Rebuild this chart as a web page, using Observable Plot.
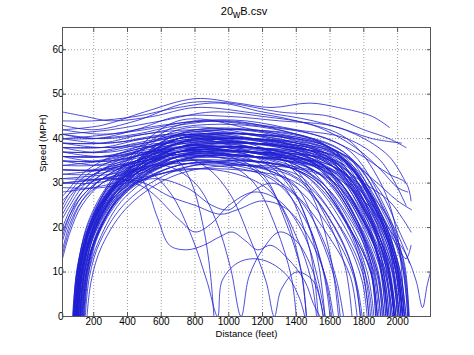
<!DOCTYPE html>
<html><head><meta charset="utf-8">
<script src="https://cdn.jsdelivr.net/npm/d3@7"></script>
<script src="https://cdn.jsdelivr.net/npm/@observablehq/plot@0.6"></script>
<style>
body{margin:0;background:#fff;}
#title{width:474px;height:20px;box-sizing:border-box;padding-top:5px;padding-left:14px;text-align:center;font:11px "Liberation Sans",Arial,sans-serif;line-height:12px;color:#000;}
#title sub{font-size:10px;vertical-align:-3px;line-height:0;}
</style></head><body>
<div id="title">20<sub>w</sub>B.csv</div>
<div id="chart"></div>
<script>
const xTicks = [200,400,600,800,1000,1200,1400,1600,1800,2000];
const yTicks = [0,10,20,30,40,50,60];
const xLabel = "Distance (feet)";
const yLabel = "Speed (MPH)";

// Runs that start from a stop near the left
const accelRuns = [
[[75,0],[100,10],[165,19],[325,29],[700,37],[1150,38],[1610,34],[1840,22],[1950,11],[1990,0]],
[[80,0],[105,11],[170,21],[330,31],[700,40],[1150,40],[1660,36],[1890,24],[2000,12],[2040,0]],
[[85,0],[110,9],[175,18],[335,28],[700,35],[1150,36],[1520,31],[1750,20],[1860,10],[1900,0]],
[[90,0],[115,10],[180,20],[340,30],[700,38],[1150,37],[1580,33],[1810,21],[1920,11],[1960,0]],
[[95,0],[120,11],[185,21],[345,31],[700,41],[1150,42],[1680,37],[1910,25],[2020,13],[2060,0]],
[[100,0],[125,9],[190,18],[350,28],[700,36],[1150,35],[1450,30],[1680,19],[1790,10],[1830,0]],
[[105,0],[130,10],[195,19],[355,29],[700,37],[1150,39],[1630,35],[1860,23],[1970,12],[2010,0]],
[[110,0],[135,11],[200,20],[360,30],[700,39],[1150,41],[1650,36],[1880,23],[1990,12],[2030,0]],
[[115,0],[140,9],[205,17],[365,27],[700,34],[1150,34],[1400,29],[1630,18],[1740,9],[1780,0]],
[[120,0],[145,10],[210,19],[370,29],[700,38],[1150,37],[1600,33],[1830,21],[1940,11],[1980,0]],
[[125,0],[150,10],[215,20],[375,30],[700,40],[1150,39],[1620,35],[1850,22],[1960,12],[2000,0]],
[[130,0],[155,9],[220,18],[380,28],[700,36],[1150,38],[1570,33],[1800,21],[1910,11],[1950,0]],
[[135,0],[160,10],[225,19],[385,28],[700,35],[1150,36],[1540,32],[1770,20],[1880,10],[1920,0]],
[[140,0],[165,9],[230,17],[390,27],[700,34],[1150,33],[1380,28],[1610,17],[1720,9],[1760,0]],
[[150,0],[175,9],[240,17],[400,26],[700,33],[1150,35],[1500,31],[1730,19],[1840,10],[1880,0]],
[[160,0],[185,8],[250,16],[410,25],[700,32],[1150,34],[1590,31],[1820,20],[1930,10],[1970,0]],
[[85,0],[110,12],[175,22],[335,32],[700,43],[1150,43],[1690,38],[1920,25],[2030,13],[2070,0]],
[[100,0],[125,12],[190,22],[350,33],[700,44],[1150,42],[1640,37],[1870,24],[1980,12],[2020,0]],
[[90,0],[115,11],[180,21],[340,31],[700,39],[1150,38],[1560,34],[1790,22],[1900,11],[1940,0]],
[[110,0],[135,10],[200,19],[360,29],[700,37],[1150,36],[1480,31],[1710,20],[1820,10],[1860,0]],
[[80,0],[105,10],[170,19],[330,29],[700,36],[1150,37],[1660,34],[1890,22],[2000,11],[2040,0]],
[[120,0],[145,11],[210,21],[370,31],[700,39],[1150,40],[1600,35],[1830,22],[1940,11],[1980,0]],
[[95,0],[120,10],[185,20],[345,30],[700,38],[1150,38],[1350,35],[1580,22],[1690,11],[1730,0]],
[[130,0],[155,10],[220,19],[380,29],[700,37],[1150,38],[1630,34],[1860,22],[1970,11],[2010,0]],
[[105,0],[130,11],[195,21],[355,31],[700,40],[1150,37],[1540,33],[1770,21],[1880,11],[1920,0]],
[[140,0],[165,10],[230,19],[390,29],[700,36],[1150,36],[1660,33],[1890,21],[2000,11],[2040,0]],
[[78,0],[102,11],[167,20],[327,30],[700,39],[1150,39],[1640,35],[1870,23],[1980,12],[2020,0]],
[[88,0],[112,10],[177,19],[337,29],[700,36],[1150,36],[1600,32],[1830,20],[1940,10],[1980,0]],
[[98,0],[122,12],[187,22],[347,32],[700,42],[1150,41],[1650,37],[1880,24],[1990,12],[2030,0]],
[[108,0],[132,10],[197,19],[357,29],[700,38],[1150,40],[1700,36],[1930,23],[2040,12],[2065,0]],
[[118,0],[142,11],[207,21],[367,31],[700,40],[1150,38],[1520,34],[1750,22],[1860,11],[1900,0]],
[[93,0],[117,10],[182,20],[342,30],[700,37],[1150,37],[1690,34],[1920,22],[2030,11],[2060,0]],
[[103,0],[127,9],[192,18],[352,28],[700,35],[1150,37],[1620,33],[1850,21],[1960,11],[2000,0]],
[[113,0],[137,11],[202,21],[362,31],[700,41],[1150,40],[1670,35],[1900,23],[2010,11],[2050,0]],
[[83,0],[107,10],[172,20],[332,30],[700,38],[1150,39],[1560,34],[1790,22],[1900,11],[1940,0]],
[[125,0],[150,9],[215,18],[375,28],[700,35],[1150,35],[1500,31],[1730,19],[1840,10],[1870,0]],
[[145,0],[170,10],[235,19],[395,28],[700,36],[1150,37],[1610,33],[1840,21],[1950,10],[1990,0]]
];

// Runs already moving at the left edge
const flyingRuns = [
[[15,46],[150,45],[300,44],[550,45],[800,47],[1100,46],[1400,44],[1700,40],[1900,30],[2000,18],[2040,0]],
[[15,43],[200,42],[450,44],[750,48],[1000,48],[1300,46],[1600,45],[1800,42],[1950,40],[2050,38]],
[[15,42],[250,43],[500,46],[800,49],[1050,48],[1250,47],[1480,48],[1650,47],[1850,45],[1952,42.5]],
[[15,41],[200,40],[450,42],[700,45],[1000,45],[1300,44],[1600,43],[1850,40],[2023,39]],
[[15,40],[200,40],[450,41],[700,43],[1000,44],[1300,42],[1600,38],[1800,30],[1950,16],[2000,0]],
[[15,39],[250,39],[500,41],[800,42],[1100,41],[1400,39],[1650,34],[1850,22],[1950,10],[1990,0]],
[[15,38],[200,37],[450,39],[750,41],[1050,42],[1350,40],[1600,36],[1800,25],[1920,13],[1960,0]],
[[15,37],[250,36],[500,38],[800,40],[1100,39],[1400,37],[1620,32],[1820,20],[1920,9],[1950,0]],
[[15,36],[200,35],[450,37],[750,39],[1050,40],[1350,39],[1650,35],[1880,22],[1990,11],[2030,0]],
[[15,35],[250,34],[500,36],[800,38],[1100,38],[1400,35],[1600,30],[1780,19],[1880,9],[1910,0]],
[[15,34],[200,34],[450,36],[750,39],[1050,39],[1350,38],[1680,35],[1900,22],[2010,11],[2050,0]],
[[15,33],[250,33],[500,35],[800,37],[1100,37],[1400,34],[1580,29],[1760,18],[1850,9],[1880,0]],
[[15,32],[200,32],[450,34],[750,36],[1050,36],[1350,35],[1640,32],[1860,20],[1970,10],[2010,0]],
[[15,31],[250,31],[500,33],[800,36],[1100,35],[1400,33],[1550,28],[1730,17],[1820,8],[1850,0]],
[[15,30],[200,30],[450,32],[750,35],[1050,35],[1350,34],[1600,31],[1820,19],[1930,9],[1970,0]],
[[15,29],[250,29],[500,31],[800,34],[1100,34],[1400,32],[1520,28],[1700,17],[1790,8],[1820,0]],
[[15,28],[200,29],[450,31],[750,33],[1050,33],[1350,31],[1500,27],[1680,16],[1760,7],[1790,0]],
[[15,44],[200,44],[450,45],[700,47],[950,48],[1200,46],[1500,44],[1750,41],[1950,36],[2050,30]],
[[15,42],[250,41],[500,42],[800,44],[1100,44],[1400,42],[1700,40],[1900,35],[2050,25]],
[[15,41],[250,40],[500,41],[800,43],[1100,43],[1400,41],[1680,37],[1880,25],[1990,13],[2030,0]],
[[15,38],[250,38],[500,40],[800,41],[1100,41],[1400,38],[1640,33],[1840,21],[1940,10],[1980,0]],
[[15,36],[250,36],[500,38],[800,40],[1100,40],[1400,38],[1700,35],[1920,23],[2030,12],[2065,0]],
[[15,34],[250,35],[500,37],[800,38],[1100,38],[1400,36],[1620,31],[1810,19],[1910,9],[1940,0]],
[[15,40],[250,39],[500,40],[800,42],[1100,42],[1400,40],[1660,36],[1870,24],[1980,12],[2020,0]],
[[15,32],[250,33],[500,35],[800,37],[1100,37],[1400,35],[1660,32],[1880,21],[1990,10],[2030,0]],
[[15,37],[250,37],[500,39],[800,41],[1100,40],[1400,37],[1580,32],[1780,20],[1880,10],[1910,0]],
[[15,39],[250,38],[500,39],[800,41],[1100,41],[1400,39],[1700,36],[1900,28],[2000,20],[2060,15]]
];

// Runs entering slowly at the left edge
const slowEntryRuns = [
[[15,13],[60,19],[130,25],[250,30],[450,34],[700,37],[1100,37],[1450,33],[1680,22],[1790,11],[1830,0]],
[[15,17],[60,22],[130,27],[250,31],[450,35],[700,38],[1100,39],[1500,36],[1730,24],[1840,12],[1880,0]],
[[15,20],[60,24],[130,28],[250,32],[450,36],[700,39],[1100,40],[1550,37],[1780,25],[1890,13],[1930,0]],
[[15,23],[60,26],[130,30],[250,33],[450,36],[700,38],[1100,37],[1450,34],[1690,22],[1800,11],[1840,0]],
[[15,25],[60,28],[130,31],[250,34],[450,37],[700,40],[1100,41],[1600,38],[1830,25],[1940,13],[1980,0]],
[[15,15],[60,21],[130,26],[250,30],[450,33],[700,35],[1100,34],[1400,31],[1630,20],[1740,10],[1780,0]],
[[15,19],[60,23],[130,27],[250,31],[450,34],[700,36],[1100,36],[1500,34],[1740,22],[1850,11],[1890,0]],
[[15,27],[60,29],[130,32],[250,35],[450,38],[700,41],[1100,42],[1550,39],[1790,27],[1900,14],[1940,0]],
[[15,22],[60,25],[130,29],[250,33],[450,37],[700,40],[1100,40],[1550,36],[1780,24],[1890,12],[1930,0]],
[[15,18],[60,23],[130,28],[250,32],[450,35],[700,37],[1100,38],[1600,35],[1830,23],[1940,12],[1980,0]],
[[15,14],[60,20],[130,26],[250,31],[450,35],[700,38],[1100,39],[1650,36],[1880,24],[1990,12],[2030,0]],
[[15,24],[60,27],[130,30],[250,33],[450,35],[700,37],[1100,36],[1500,33],[1730,22],[1840,11],[1870,0]]
];

// Runs that stop early
const earlyStopRuns = [
[[100,0],[125,10],[190,19],[350,29],[700,35],[1000,34],[1150,30],[1280,20],[1370,9],[1400,0]],
[[15,33],[300,33],[600,36],[900,36],[1150,33],[1320,24],[1420,12],[1460,0]],
[[120,0],[145,10],[210,19],[370,28],[700,33],[1050,32],[1250,28],[1400,18],[1490,8],[1520,0]],
[[15,37],[300,37],[600,39],[900,38],[1200,35],[1400,27],[1520,14],[1570,0]],
[[90,0],[115,11],[180,21],[340,30],[700,37],[1050,37],[1300,33],[1470,21],[1570,9],[1610,0]],
[[15,30],[250,31],[550,34],[900,34],[1250,31],[1450,22],[1560,10],[1600,0]],
[[135,0],[160,10],[225,19],[385,28],[700,34],[1100,34],[1380,30],[1540,18],[1630,8],[1660,0]],
[[15,39],[300,39],[650,41],[950,40],[1250,37],[1480,28],[1600,14],[1650,0]],
[[105,0],[130,10],[195,20],[355,30],[700,37],[1000,36],[1200,32],[1330,22],[1430,10],[1460,0]],
[[15,35],[300,35],[600,37],[900,37],[1150,35],[1350,28],[1480,15],[1530,0]]
];

// Irregular runs in the middle
const oddRuns = [
[[15,33],[200,33],[400,34],[500,30],[580,22],[650,16],[750,15],[850,16],[950,18],[1020,19],[1100,17],[1170,15],[1250,16],[1350,13],[1450,8],[1500,3],[1540,0]],
[[15,31],[300,32],[500,33],[650,28],[780,18],[870,8],[934,0],[960,8],[1050,12],[1150,13],[1250,12],[1350,9],[1420,4],[1450,0]],
[[80,0],[105,10],[170,19],[330,29],[600,34],[800,30],[920,22],[1010,11],[1073,0],[1120,9],[1200,15],[1300,19],[1400,17],[1500,10],[1560,0]],
[[15,36],[300,36],[600,37],[850,34],[1000,28],[1120,18],[1220,8],[1270,0],[1310,6],[1400,10],[1500,8],[1560,0]],
[[15,38],[300,38],[550,38],[700,35],[780,30],[850,20],[890,10],[912,0]],
[[15,30],[300,31],[500,30],[650,27],[800,25],[950,23],[1050,24],[1200,26],[1350,24],[1500,16],[1580,8],[1620,0]],
[[100,0],[125,10],[190,19],[350,28],[550,31],[750,29],[900,25],[1000,24],[1100,27],[1250,30],[1400,27],[1550,18],[1640,8],[1680,0]],
[[15,26],[100,29],[300,31],[500,29],[700,22],[800,19],[900,21],[1000,25],[1150,28],[1300,26],[1450,18],[1530,8],[1570,0]]
];

// Runs still moving at the right end
const tailRuns = [
[[15,40],[300,41],[600,43],[900,44],[1200,43],[1500,41],[1750,37],[1950,32],[2050,30],[2080,26]],
[[120,0],[145,10],[210,20],[370,30],[700,38],[1150,39],[1550,36],[1800,30],[1950,26],[2030,22],[2080,19]],
[[15,36],[300,36],[650,39],[1000,40],[1350,38],[1650,33],[1850,25],[1980,18],[2050,14],[2110,8],[2148,2],[2175,7],[2195,10]],
[[100,0],[125,11],[190,21],[350,31],[700,40],[1150,41],[1600,38],[1850,31],[2000,26],[2083,24]],
[[15,41],[300,42],[600,44],[900,46],[1200,45],[1500,43],[1750,38],[1900,33],[2000,29],[2060,28]],
[[90,0],[115,10],[180,20],[340,30],[700,37],[1150,38],[1600,34],[1850,27],[1980,20],[2040,15],[2070,12]],
[[15,35],[300,35],[650,38],[1000,38],[1350,36],[1650,31],[1850,24],[1980,17],[2050,13],[2080,16]]
];

const groups = [accelRuns, flyingRuns, slowEntryRuns, earlyStopRuns, oddRuns, tailRuns];
const rows = [];
let id = 0;
for (const g of groups) for (const run of g) { for (const [x,y] of run) rows.push({id, x, y}); id++; }

const font = '"Liberation Sans", Arial, sans-serif';
const blank = () => "";
const chart = Plot.plot({
  width: 474, height: 335,
  marginTop: 7, marginLeft: 62, marginRight: 44, marginBottom: 39,
  style: {fontFamily: font, fontSize: "10px", color: "#000", background: "#fff"},
  x: {domain: [15, 2195]},
  y: {domain: [0, 65]},
  marks: [
    Plot.gridX(xTicks, {stroke: "#888", strokeOpacity: 0.8, strokeDasharray: "1,2"}),
    Plot.gridY(yTicks, {stroke: "#888", strokeOpacity: 0.8, strokeDasharray: "1,2"}),
    Plot.line(rows, {x: "x", y: "y", z: "id", stroke: "#2020d0", strokeWidth: 0.8, curve: "catmull-rom", clip: true}),
    Plot.axisX(xTicks, {anchor: "bottom", tickSize: -4, tickPadding: 5, tickFormat: d => String(d), label: null, stroke: "#555"}),
    Plot.axisX(xTicks, {anchor: "top", tickSize: -4, tickFormat: blank, label: null, stroke: "#555"}),
    Plot.axisY(yTicks, {anchor: "left", tickSize: -4, tickPadding: 3, label: null, stroke: "#555"}),
    Plot.axisY(yTicks, {anchor: "right", tickSize: -4, tickFormat: blank, label: null, stroke: "#555"}),
    Plot.frame({stroke: "#555"}),
    Plot.text([xLabel], {text: d => d, frameAnchor: "bottom", dy: 20, fontSize: 9.5}),
    Plot.text([yLabel], {text: d => d, frameAnchor: "left", dx: -20, rotate: -90, fontSize: 9.5})
  ]
});
document.getElementById("chart").appendChild(chart);
</script>
</body></html>
